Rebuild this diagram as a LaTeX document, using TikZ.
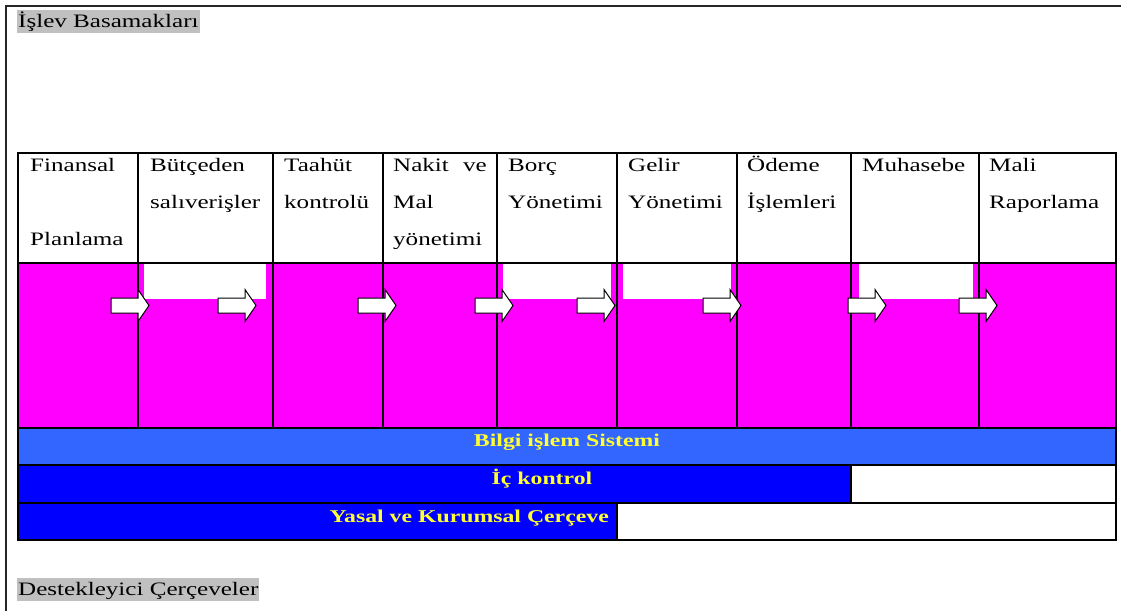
\documentclass[tikz,border=0pt]{standalone}
\usepackage{fontspec}
\setmainfont{Liberation Serif}[FakeStretch=1.32]
\definecolor{mag}{HTML}{FF00FF}
\definecolor{bilgi}{HTML}{3366FF}
\definecolor{dblue}{HTML}{0000FF}
\definecolor{hlgray}{HTML}{C0C0C0}
\definecolor{ytxt}{HTML}{FFFF33}
\tikzset{
  hdr/.style={anchor=base west, inner sep=0pt, font=\fontsize{19}{21}\selectfont},
  hl/.style={anchor=base west, fill=hlgray, inner xsep=1pt, inner ysep=0pt, text height=17.5pt, text depth=5.5pt, font=\fontsize{19}{21}\selectfont},
  band/.style={anchor=base, inner sep=0pt, text=ytxt, font=\fontsize{18}{20}\selectfont\bfseries},
  grid/.style={line width=1.2pt, black},
  barrow/.pic={\draw[line width=1pt, fill=white, line join=miter] (0,-7.5) -- (27,-7.5) -- (27,-16) -- (38,0) -- (27,16) -- (27,7.5) -- (0,7.5) -- cycle;}
}
\begin{document}
\begin{tikzpicture}[x=1pt,y=-1pt]
\useasboundingbox (0,0) rectangle (1121,611);
\fill[white] (0,0) rectangle (1121,611);
% outer frame
\draw[line width=2.2pt, black!85] (6,611) -- (6,6) -- (1121,6);
% fills
\fill[mag] (18,263) rectangle (1116,428);
\fill[white] (144,263) rectangle (266,299);
\fill[white] (503,263) rectangle (611,299);
\fill[white] (623,263) rectangle (731,299);
\fill[white] (859,263) rectangle (973,299);
\fill[bilgi] (18,428) rectangle (1116,465);
\fill[dblue] (18,465) rectangle (851,503);
\fill[dblue] (18,503) rectangle (617,540);
% grid
\draw[grid] (18,153) rectangle (1116,540);
\foreach \y in {263,428,465,503} \draw[grid] (18,\y) -- (1116,\y);
\foreach \x in {138,273,383,497,617,737,851,979} \draw[grid] (\x,153) -- (\x,428);
\draw[grid] (851,465) -- (851,503);
\draw[grid] (617,503) -- (617,540);
% arrows
\foreach \x in {111,218,358,475,577,703,848,959} \pic at (\x,305.5) {barrow};
% header texts
\node[hdr] (c1a) at (30,171) {Finansal};
\node[hdr] (c1b) at (30,245) {Planlama};
\node[hdr] (c2a) at (150,171) {Bütçeden};
\node[hdr] (c2b) at (150,208) {salıverişler};
\node[hdr] (c3a) at (284,171) {Taahüt};
\node[hdr] (c3b) at (284,208) {kontrolü};
\node[hdr] (c4a) at (393,171) {Nakit};
\node[hdr, anchor=base east] (c4v) at (487,171) {ve};
\node[hdr] (c4b) at (393,208) {Mal};
\node[hdr] (c4c) at (393,245) {yönetimi};
\node[hdr] (c5a) at (508,171) {Borç};
\node[hdr] (c5b) at (508,208) {Yönetimi};
\node[hdr] (c6a) at (628,171) {Gelir};
\node[hdr] (c6b) at (628,208) {Yönetimi};
\node[hdr] (c7a) at (747,171) {Ödeme};
\node[hdr] (c7b) at (747,208) {İşlemleri};
\node[hdr] (c8a) at (862,171) {Muhasebe};
\node[hdr] (c9a) at (989,171) {Mali};
\node[hdr] (c9b) at (989,208) {Raporlama};
% bands
\node[band] (bilgi) at (567,446) {Bilgi işlem Sistemi};
\node[band] (ic) at (542,484) {İç kontrol};
\node[band, anchor=base east] (yasal) at (609,522) {Yasal ve Kurumsal Çerçeve};
% highlighted titles
\node[hl] (title) at (17,27.5) {İşlev Basamakları};
\node[hl] (dest) at (17,595) {Destekleyici Çerçeveler};
\end{tikzpicture}
\end{document}
